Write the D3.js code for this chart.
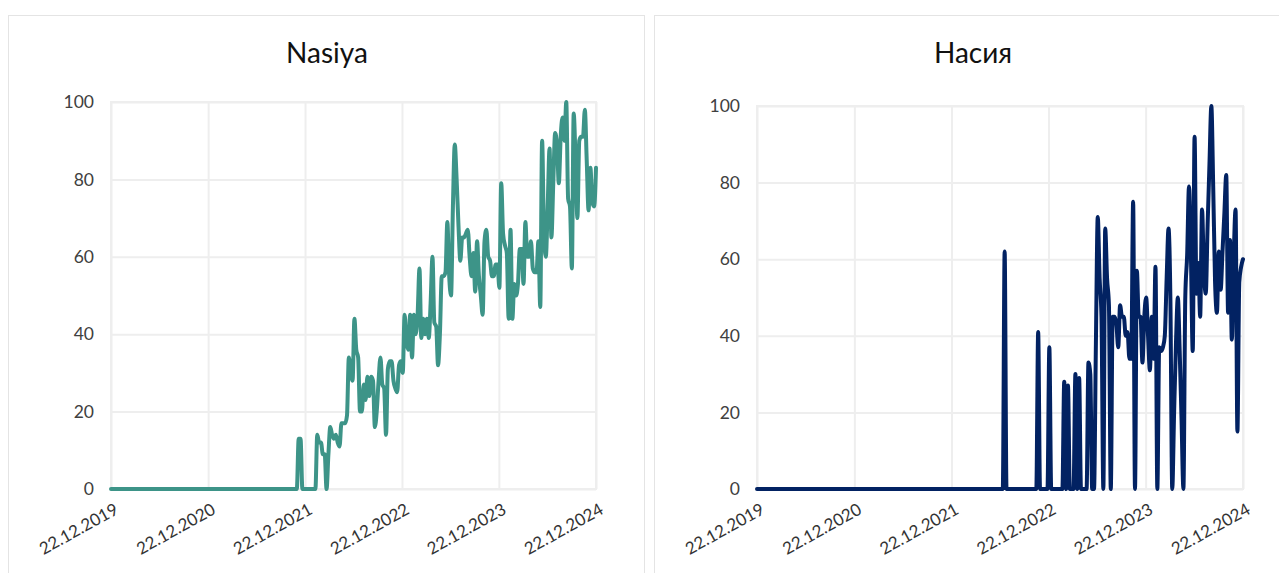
<!DOCTYPE html>
<html>
<head>
<meta charset="utf-8">
<script src="https://cdn.jsdelivr.net/npm/d3@7"></script>
<style>
  body { margin: 0; background: #fff; }
  svg { display: block; font-family: Lato, 'Noto Sans', sans-serif; }
</style>
</head>
<body>
<svg id="chart" width="1279" height="573"></svg>
<script>
// weekly series, first week = 22.12.2019, last week = 22.12.2024
const START = '2019-12-22';
const END = '2024-12-22';

const tickDates = ['2019-12-22', '2020-12-22', '2021-12-22', '2022-12-22', '2023-12-22', '2024-12-22'];
const tickLabels = ['22.12.2019', '22.12.2020', '22.12.2021', '22.12.2022', '22.12.2023', '22.12.2024'];
const yTicks = [0, 20, 40, 60, 80, 100];

const titles = ['Nasiya', 'Насия'];
const colors = ['#3d9488', '#022262'];

const nasiyaLatin = [
  0,0,0,0,0,0,0,0,0,0,0,0,0,0,0,0,0,0,0,0,
  0,0,0,0,0,0,0,0,0,0,0,0,0,0,0,0,0,0,0,0,
  0,0,0,0,0,0,0,0,0,0,0,0,0,0,0,0,0,0,0,0,
  0,0,0,0,0,0,0,0,0,0,0,0,0,0,0,0,0,0,0,0,
  0,0,0,0,0,0,0,0,0,0,0,0,0,0,0,0,0,0,0,0,
  0,13,13,0,0,0,0,0,0,0,0,
  14,12,12,9,9,0,9,16,14,13,14,12,11,17,17,17,19,34,30,28,
  44,36,34,20,20,27,23,29,24,29,28,16,20,28,34,27,26,14,31,33,33,
  28,26,25,32,33,30,45,38,36,45,34,45,40,45,57,39,44,40,44,39,
  48,60,43,42,32,40,55,55,56,69,55,50,73,89,80,68,59,65,65,66,
  67,60,55,61,51,64,55,50,45,64,67,60,59,55,
  55,58,58,52,79,66,63,61,44,67,44,53,50,53,62,62,53,69,60,60,
  64,57,56,56,64,47,90,66,60,73,88,65,79,92,89,79,91,96,90,100,
  75,73,57,97,85,70,90,91,91,98,85,72,83,74,73,83
];

const nasiyaCyr = [
  0,0,0,0,0,0,0,0,0,0,0,0,0,0,0,0,0,0,0,0,
  0,0,0,0,0,0,0,0,0,0,0,0,0,0,0,0,0,0,0,0,
  0,0,0,0,0,0,0,0,0,0,0,0,0,0,0,0,0,0,0,0,
  0,0,0,0,0,0,0,0,0,0,0,0,0,0,0,0,0,0,0,0,
  0,0,0,0,0,0,0,0,0,0,0,0,0,0,0,0,0,0,0,0,
  0,0,0,0,0,0,0,0,0,0,0,0,0,0,0,0,0,0,0,0,
  0,0,0,0,0,0,0,0,0,0,0,0,0,
  62,
  0,0,0,0,0,0,0,0,0,0,0,0,0,0,0,0,0,
  41,
  0,0,0,0,0,
  37,
  0,0,0,0,0,0,0,
  28,0,27,0,0,0,30,0,29,0,
  0,0,0,33,30,0,0,38,71,55,
  45,0,68,55,48,0,45,45,43,37,
  48,45,45,40,41,34,34,75,0,57,
  45,45,33,45,50,40,31,45,34,58,
  0,37,36,37,40,55,68,50,0,20,
  38,50,36,18,0,50,61,79,62,36,
  92,51,59,45,73,57,51,69,85,100,
  79,54,46,62,52,62,72,82,46,65,
  39,60,73,15,54,58,60
];

const seriesList = [nasiyaLatin, nasiyaCyr];

// layout of the two boxes
const panels = [
  { left: 8,   top: 15, width: 636, x0: 111, x1: 596,  y0: 102, y1: 489, titleX: 327 },
  { left: 654, top: 15, width: 636, x0: 757, x1: 1243, y0: 106, y1: 489, titleX: 973 }
];

const parse = d3.timeParse('%Y-%m-%d');
const svg = d3.select('#chart');

panels.forEach((p, idx) => {
  const values = seriesList[idx];
  const start = parse(START);
  const data = values.map((v, i) => ({ date: d3.timeDay.offset(start, i * 7), value: v }));

  const x = d3.scaleTime().domain([start, parse(END)]).range([p.x0, p.x1]);
  const y = d3.scaleLinear().domain([0, 100]).range([p.y1, p.y0]);

  // outer box
  svg.append('rect')
    .attr('x', p.left + 0.5).attr('y', p.top + 0.5)
    .attr('width', p.width).attr('height', 600)
    .attr('fill', '#fff').attr('stroke', '#e4e4e4');

  // title
  svg.append('text')
    .attr('x', p.titleX).attr('y', 63)
    .attr('text-anchor', 'middle')
    .attr('font-size', 28)
    .attr('fill', '#111')
    .text(titles[idx]);

  const g = svg.append('g');

  // horizontal grid
  g.append('g')
    .attr('transform', `translate(${p.x0},0)`)
    .call(d3.axisLeft(y).tickValues(yTicks).tickSize(-(p.x1 - p.x0)).tickFormat(''))
    .call(s => s.select('.domain').remove())
    .selectAll('line').attr('stroke', '#eeeeee').attr('stroke-width', 2);

  // vertical grid
  g.append('g')
    .attr('transform', `translate(0,${p.y1})`)
    .call(d3.axisBottom(x).tickValues(tickDates.map(parse)).tickSize(-(p.y1 - p.y0)).tickFormat(''))
    .call(s => s.select('.domain').remove())
    .selectAll('line').attr('stroke', '#eeeeee').attr('stroke-width', 2);

  // plot border
  g.append('rect')
    .attr('x', p.x0).attr('y', p.y0)
    .attr('width', p.x1 - p.x0).attr('height', p.y1 - p.y0)
    .attr('fill', 'none').attr('stroke', '#eeeeee').attr('stroke-width', 2);

  // y labels
  g.append('g')
    .attr('transform', `translate(${p.x0},0)`)
    .call(d3.axisLeft(y).tickValues(yTicks).tickSize(0).tickPadding(17))
    .call(s => s.select('.domain').remove())
    .selectAll('text')
    .attr('font-family', "Lato, 'Noto Sans', sans-serif")
    .attr('font-size', 17.5).attr('fill', '#404040');

  // x labels
  g.append('g')
    .attr('transform', `translate(0,${p.y1})`)
    .call(d3.axisBottom(x).tickValues(tickDates.map(parse)).tickSize(0)
      .tickFormat((d, i) => tickLabels[i]))
    .call(s => s.select('.domain').remove())
    .selectAll('text')
    .attr('font-family', "Lato, 'Noto Sans', sans-serif")
    .attr('font-size', 17).attr('fill', '#333')
    .attr('x', 0).attr('y', 0).attr('dy', 0)
    .attr('text-anchor', 'end')
    .attr('transform', 'translate(8,24) rotate(-29)');

  // series line
  const line = d3.line()
    .x(d => x(d.date))
    .y(d => y(d.value))
    .curve(d3.curveMonotoneX);

  g.append('path')
    .datum(data)
    .attr('d', line)
    .attr('fill', 'none')
    .attr('stroke', colors[idx])
    .attr('stroke-width', 4)
    .attr('stroke-linejoin', 'round')
    .attr('stroke-linecap', 'round');
});
</script>
</body>
</html>
